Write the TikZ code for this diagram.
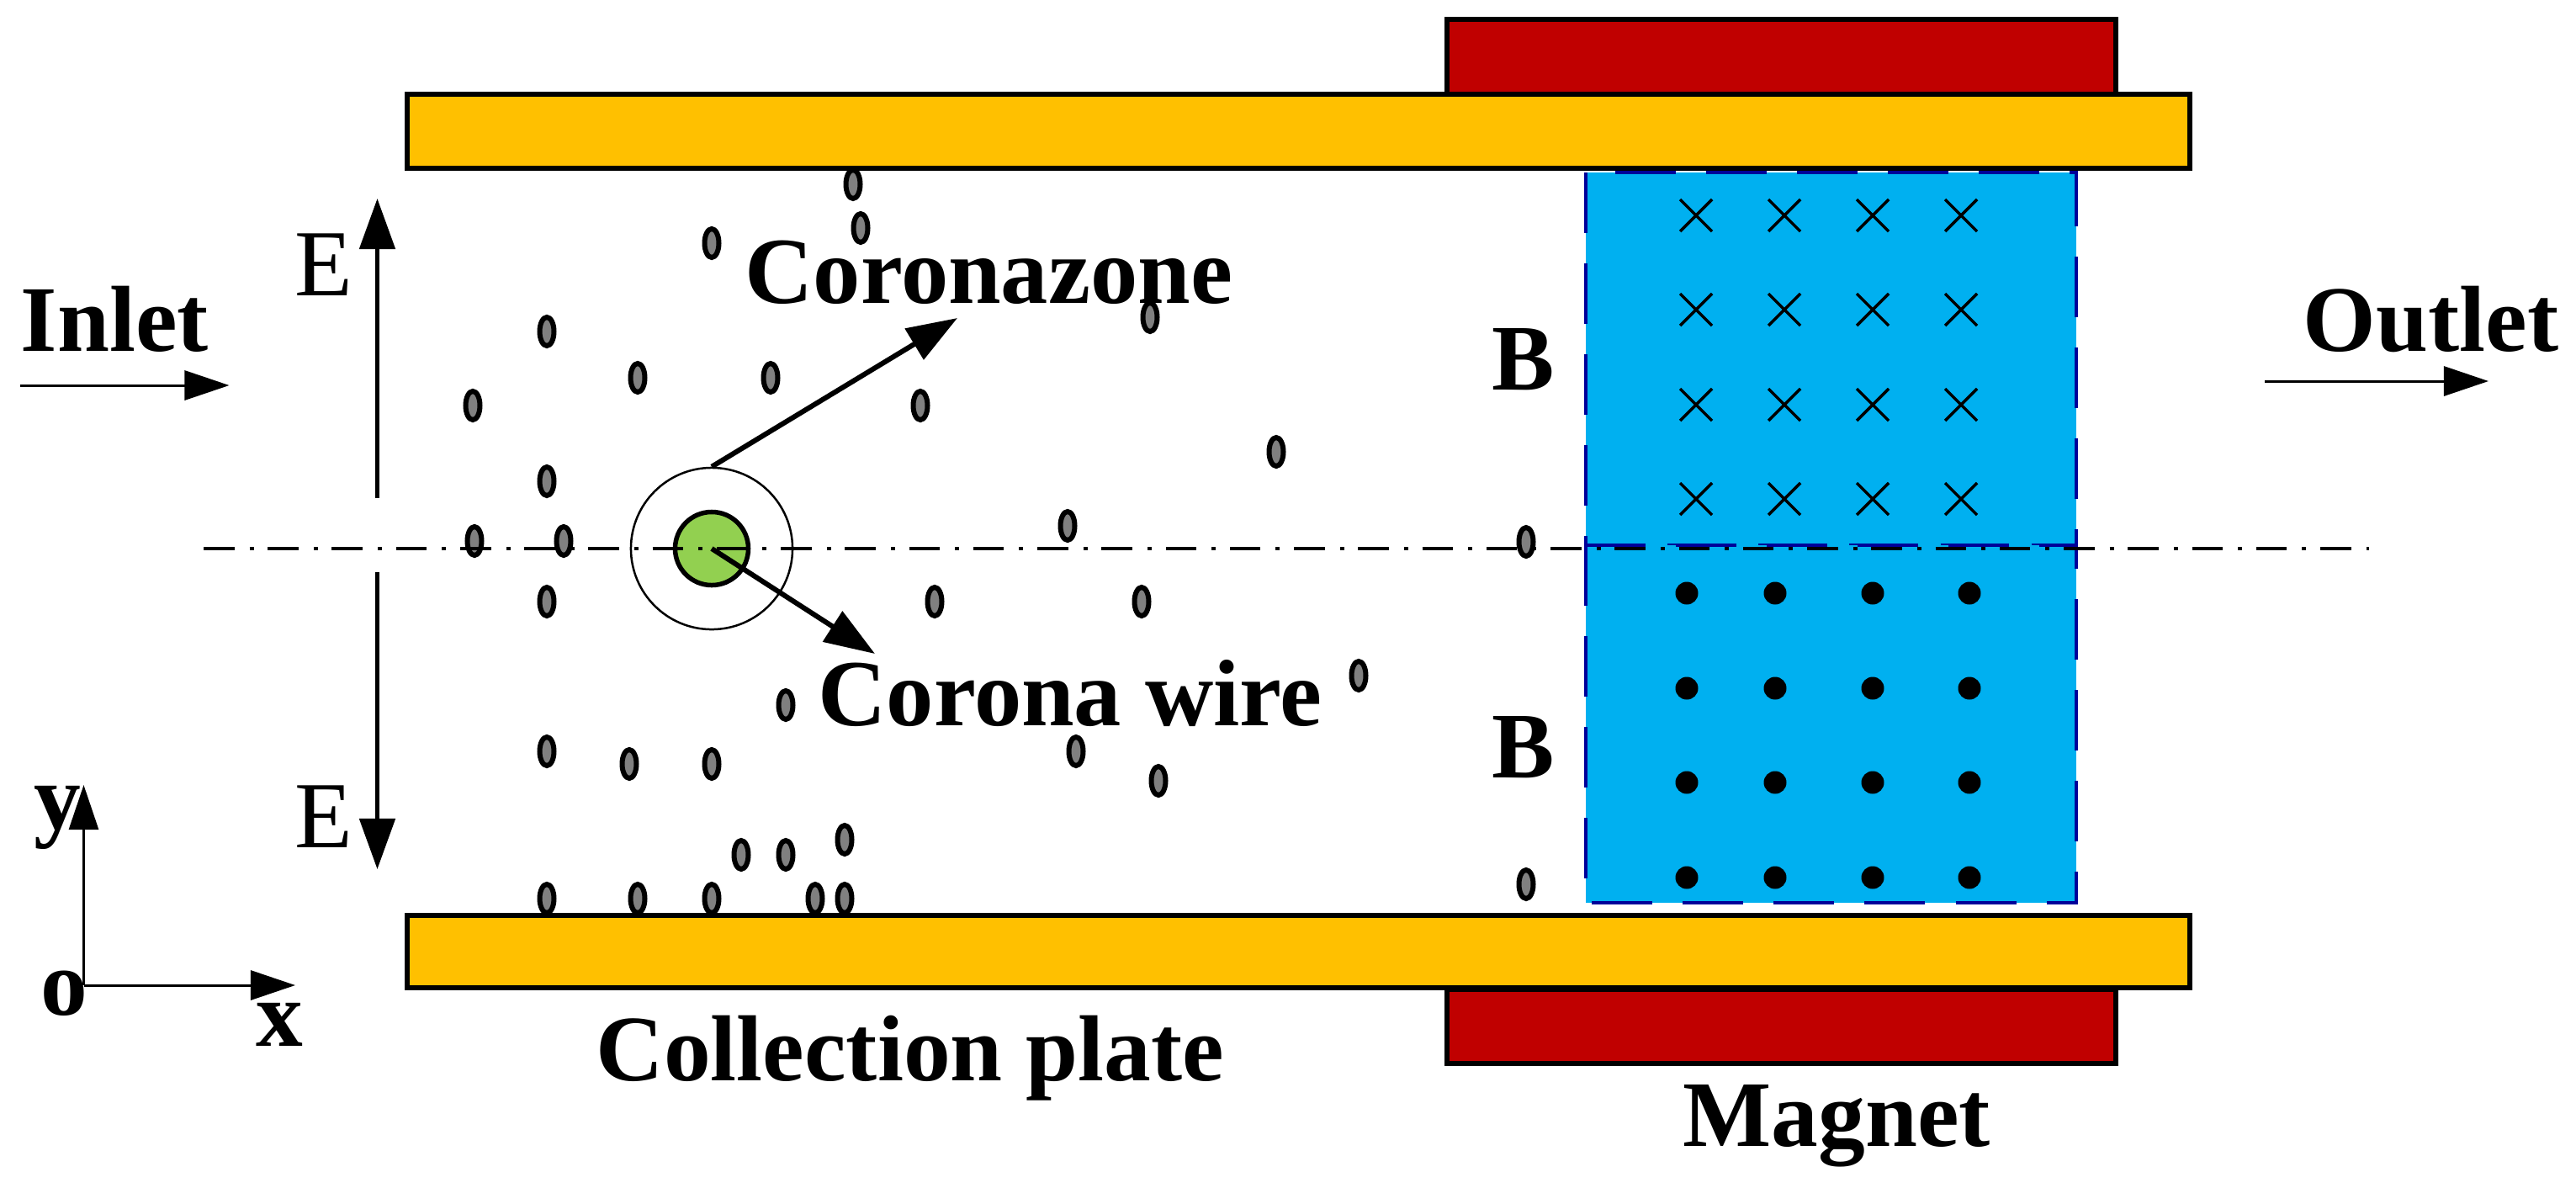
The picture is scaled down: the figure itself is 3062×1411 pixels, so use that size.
\documentclass[tikz,border=0pt]{standalone}
\usepackage{fontspec}
\setmainfont{Liberation Serif}
\usetikzlibrary{arrows.meta}
\definecolor{platecol}{HTML}{FFC000}
\definecolor{magnetcol}{HTML}{C00000}
\definecolor{fieldcol}{HTML}{00B0F0}
\definecolor{wirecol}{HTML}{92D050}
\definecolor{dashcol}{HTML}{000099}
\begin{document}
\begin{tikzpicture}[x=0.01cm, y=-0.01cm]
    \tikzstyle{plate} = [draw, line width=0.055cm, fill=platecol]
    \tikzstyle{magnet} = [draw, line width=0.055cm, fill=magnetcol]
    \tikzstyle{field} = [draw=dashcol, line width=0.045cm, fill=fieldcol, dash pattern=on 0.72cm off 0.36cm]
    \tikzstyle{particle} = [draw, line width=0.06cm, fill=gray]
    \tikzstyle{bigarrow} = [-{Triangle[length=0.6cm, width=0.42cm]}, line width=0.05cm]
    \tikzstyle{thinarrow} = [-{Triangle[length=0.53cm, width=0.35cm]}, line width=0.03cm]
    \tikzstyle{lbl} = [inner sep=0pt, anchor=base west, font=\fontsize{31.7}{36}\selectfont\bfseries]
    \tikzstyle{clbl} = [lbl, font=\fontsize{32}{36}\selectfont\bfseries]
    \tikzstyle{elbl} = [inner sep=0pt, anchor=base west, font=\fontsize{32}{36}\selectfont]
    \useasboundingbox (0,0) rectangle (3062,1411);

    % particles
    \foreach \x/\y in {1014/219, 1023/271, 846/289, 1367/377, 650/394, 758/449, 916/449, 562/482, 1094/482,
        1517/537, 650/572, 1269/625, 564/643, 670/643, 1814/644, 650/715, 1111/715, 1357/715, 1615/803,
        934/838, 650/893, 748/908, 846/908, 1279/893, 1377/928, 881/1016, 934/1016, 1004/998, 650/1068,
        758/1068, 846/1068, 969/1068, 1004/1068, 1814/1051}
        \draw[particle] (\x,\y) ellipse (8.5 and 17);

    % magnets and plates
    \draw[magnet] (1720,23) rectangle (2515,112);
    \draw[magnet] (1720,1176) rectangle (2515,1264);
    \draw[plate] (484,112) rectangle (2603,200);
    \draw[plate] (484,1088) rectangle (2603,1174);

    % field regions
    \draw[field] (1885,205) rectangle (2468,648);
    \draw[field] (1885,648) rectangle (2468,1073);
    \foreach \x in {2016,2121,2226,2331}
        \foreach \y in {256,368,481,593}
            \draw[line width=0.035cm] (\x-19,\y-19) -- (\x+19,\y+19) (\x-19,\y+19) -- (\x+19,\y-19);
    \foreach \x in {2005,2110,2226,2341}
        \foreach \y in {705,818,930,1043}
            \fill (\x,\y) circle (13.5);

    % axis and wire
    \node[circle, draw, line width=0.025cm, minimum size=1.92cm, inner sep=0pt] (zone) at (846,652) {};
    \node[circle, draw, line width=0.055cm, fill=wirecol, minimum size=0.87cm, inner sep=0pt] (wire) at (846,652) {};
    \coordinate (axisl) at (242,652);
    \coordinate (axisr) at (2816,652);
    \draw[line width=0.045cm, dash pattern=on 0.365cm off 0.18cm on 0.05cm off 0.167cm] (axisl) -- (axisr);

    % labels
    \node[lbl] (inlet) at (24,417) {Inlet};
    \node[lbl] (outlet) at (2737,417) {Outlet};
    \node[clbl] (czone) at (885,360) {Coronazone};
    \node[clbl] (cwire) at (972,862) {Corona wire};
    \node[lbl] (cplate) at (708,1284) {Collection plate};
    \node[lbl] (mlabel) at (2000,1362) {Magnet};
    \node[lbl] (b1) at (1773,463) {B};
    \node[lbl] (b2) at (1773,924) {B};
    \node[elbl] (e1) at (350,351) {E};
    \node[elbl] (e2) at (350,1007) {E};
    \node[lbl] (ylabel) at (40,985) {y};
    \node[lbl] (olabel) at (48,1206) {o};
    \node[lbl] (xlabel) at (304,1243) {x};

    % arrows
    \coordinate (ztip) at (1138,378);
    \coordinate (wtip) at (1040,777);
    \coordinate (e1a) at (448.5,592);
    \coordinate (e1b) at (448.5,236);
    \coordinate (e2a) at (448.5,680);
    \coordinate (e2b) at (448.5,1033);
    \coordinate (inl) at (24,458);
    \coordinate (inr) at (272.5,458);
    \coordinate (outl) at (2692,453);
    \coordinate (outr) at (2958,453);
    \coordinate (orig) at (99.5,1171);
    \coordinate (xtip) at (351,1171);
    \coordinate (ytip) at (99.5,933);
    \draw[bigarrow, line width=0.06cm] (zone.north) -- (ztip);
    \draw[bigarrow, line width=0.06cm] (wire.center) -- (wtip);
    \draw[bigarrow] (e1a) -- (e1b);
    \draw[bigarrow] (e2a) -- (e2b);
    \draw[thinarrow] (inl) -- (inr);
    \draw[thinarrow] (outl) -- (outr);
    \draw[thinarrow] (orig) -- (xtip);
    \draw[thinarrow] (orig) -- (ytip);
\end{tikzpicture}
\end{document}
